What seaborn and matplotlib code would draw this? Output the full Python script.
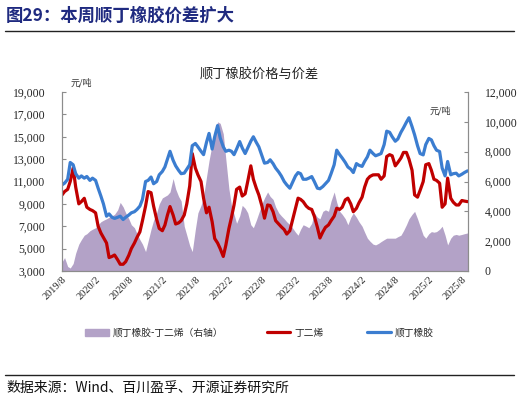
import numpy as np
import pandas as pd
import matplotlib
matplotlib.use("Agg")
import matplotlib.pyplot as plt
from matplotlib.ticker import FuncFormatter
from matplotlib.patches import Patch
from matplotlib.lines import Line2D
import seaborn as sns

# ─────────────────────────────────────────────
# data (semi-monthly)
# ─────────────────────────────────────────────
dates = pd.date_range("2019-08-01", "2025-09-01", freq="SMS")

br_price = [  # 顺丁橡胶
    10700, 10850, 11200, 12700, 12500, 11700, 11300, 11500, 11300, 11450, 11100, 11300,
    11100, 10400, 9700, 9000, 7900, 8100, 7800, 7700, 7800, 7900, 7600, 7800,
    8000, 8200, 8300, 8500, 8800, 9400, 11000, 11100, 11400, 10800, 11000, 11600,
    11900, 12300, 13000, 13700, 12900, 12400, 12000, 11700, 11750, 12100, 12500, 14200,
    14400, 14100, 13700, 13400, 14500, 15300, 13900, 15000, 16000, 14900, 14100, 13700,
    13800, 13700, 13400, 13900, 14570, 14000, 13500, 14000, 14600, 15000, 14500, 14100,
    13300, 12640, 12700, 12940, 12600, 12200, 11850, 11500, 11000, 10700, 10400, 10900,
    11500, 11800, 11700, 11200, 11200, 11300, 11440, 11000, 10400, 10350, 10550, 10800,
    11100, 11700, 12500, 13800, 13400, 13100, 12700, 12300, 12100, 11800, 12600, 12450,
    12350, 12800, 13200, 13800, 13500, 13300, 13400, 13500, 14300, 15500, 15400, 15000,
    14600, 14800, 15400, 15800, 16300, 16700, 15900, 15170, 14200, 13500, 13380, 14300,
    14850, 14720, 14200, 13800, 13680, 12200, 11500, 12790, 11600, 11700, 11740, 11500,
    11650, 11800, 11950,
]

bd_price = [  # 丁二烯
    9800, 10100, 10300, 11000, 12200, 10500, 9000, 9200, 9500, 8700, 8500, 8400,
    8200, 7000, 6400, 6000, 5500, 4200, 4300, 4430, 4000, 3600, 3600, 3830,
    4400, 5000, 5500, 6000, 6500, 7500, 8800, 10100, 10000, 8800, 7600, 6800,
    6600, 7100, 8000, 8760, 8000, 7200, 7300, 7500, 8000, 9000, 10600, 13500,
    12200, 11600, 11000, 9500, 8200, 8700, 7400, 5900, 5500, 5000, 4300, 5300,
    6800, 7800, 8900, 10300, 10500, 9700, 9900, 11000, 12400, 11200, 10400, 9800,
    8800, 7720, 8900, 8850, 8300, 7500, 7200, 6950, 6700, 6300, 6600, 7500,
    8600, 9510, 9400, 9200, 8800, 8600, 8500, 7900, 6900, 5950, 6500, 6900,
    7120, 7500, 7900, 8610, 8500, 8700, 9360, 9510, 9000, 8300, 8600, 9100,
    9600, 10500, 11200, 11450, 11590, 11600, 11600, 11200, 11500, 13230, 13400, 13300,
    12400, 12700, 13100, 13600, 13600, 13000, 12000, 9800, 9600, 10200, 10990, 12500,
    12600, 12000, 11200, 11100, 10850, 8700, 9000, 11300, 9500, 9150, 8900, 8900,
    9300, 9250, 9200,
]

spread = [  # 顺丁橡胶-丁二烯（右轴）
    600, 900, 300, 200, 500, 1200, 1800, 2100, 2400, 2500, 2700, 2800,
    2900, 3100, 3300, 3400, 3500, 3600, 3700, 3800, 4100, 4600, 4300, 3900,
    3500, 3100, 2900, 2500, 2100, 1800, 1300, 2000, 2800, 3400, 3900, 4500,
    4900, 5000, 5100, 5300, 6200, 5500, 5000, 4700, 3000, 2400, 1700, 1300,
    2800, 3900, 4400, 5000, 6300, 7400, 8500, 9400, 10000, 9900, 9200, 7500,
    5500, 4400, 3800, 3200, 3700, 4400, 4200, 3900, 3100, 2900, 3400, 3900,
    4500, 4900, 5300, 5000, 4800, 4300, 3900, 3700, 3500, 3300, 3100, 2900,
    2600, 2400, 2800, 3100, 3000, 2900, 3200, 3900, 3600, 3500, 4000, 4100,
    4000, 4700, 5300, 4600, 4000, 3800, 3500, 3100, 3600, 3900, 3600, 3300,
    3000, 2600, 2200, 2000, 1800, 1750, 1850, 1970, 2100, 2200, 2200, 2200,
    2200, 2300, 2400, 2700, 3100, 3500, 3800, 4000, 3500, 3000, 2400, 2200,
    2500, 2640, 2600, 2640, 2800, 3000, 2400, 1750, 2200, 2400, 2450, 2400,
    2450, 2500, 2550,
]

tick_labels = ["2019/8", "2020/2", "2020/8", "2021/2", "2021/8", "2022/2", "2022/8",
               "2023/2", "2023/8", "2024/2", "2024/8", "2025/2", "2025/8"]

df = pd.DataFrame({"date": dates, "br": br_price, "bd": bd_price, "spread": spread})

# ─────────────────────────────────────────────
# style
# ─────────────────────────────────────────────
sns.set_style("white")
plt.rcParams["font.family"] = ["Noto Sans CJK SC", "DejaVu Sans"]
serif = ["Liberation Serif", "DejaVu Serif"]

c_area = "#b3a2c7"
c_red = "#c00000"
c_blue = "#3b7dd0"
c_navy = "#1f2a80"
c_axis = "#8c8c8c"

fig = plt.figure(figsize=(5.19, 4.05), dpi=100)
ax = fig.add_axes([0.1195, 0.3309, 0.782, 0.4419])
ax2 = ax.twinx()

# spread area on right axis, behind the lines
ax2.fill_between(df["date"], 0, df["spread"], color=c_area, lw=0)
ax2.set_ylim(0, 12000)
ax2.set_yticks(np.arange(0, 12001, 2000))

sns.lineplot(data=df, x="date", y="bd", ax=ax, color=c_red, lw=2.3)
sns.lineplot(data=df, x="date", y="br", ax=ax, color=c_blue, lw=2.3)
ax.set_zorder(ax2.get_zorder() + 1)
ax.patch.set_visible(False)

ax.set_ylim(3000, 19000)
ax.set_yticks(np.arange(3000, 19001, 2000))
ax.set_xlim(pd.Timestamp("2019-08-01"), pd.Timestamp("2025-09-03"))
ticks = pd.to_datetime([t.replace("/", "-") + "-01" for t in tick_labels])
ax.set_xticks(ticks)
ax.set_xticklabels(tick_labels, rotation=45, ha="right", rotation_mode="anchor",
                   family=serif, fontsize=7.5)
ax.set_xlabel("")
ax.set_ylabel("")
ax2.set_ylabel("")

fmt = FuncFormatter(lambda v, p: f"{int(v):,}")
ax.yaxis.set_major_formatter(fmt)
ax2.yaxis.set_major_formatter(fmt)
for a in (ax, ax2):
    for lab in a.get_yticklabels():
        lab.set_family(serif)
        lab.set_fontsize(8.5)
    a.spines["top"].set_visible(False)
    for s in ("left", "right", "bottom"):
        a.spines[s].set_color(c_axis)
        a.spines[s].set_linewidth(0.8)
ax.tick_params(axis="y", direction="in", length=3, width=0.8, color=c_axis, pad=12)
ax2.tick_params(axis="y", direction="in", length=3, width=0.8, color=c_axis, pad=12)
ax.tick_params(axis="x", direction="in", length=3, width=0.8, color=c_axis, pad=3)

# units
fig.text(0.135, 0.79, "元/吨", fontsize=6.5, color="#333333")
ax.text(0.905, 0.88, "元/吨", transform=ax.transAxes, fontsize=6.5, color="#333333")

# titles
fig.text(0.012, 0.962, "图29：本周顺丁橡胶价差扩大", fontsize=12.5, fontweight="bold",
         color=c_navy, va="center")
fig.add_artist(Line2D([0.01, 0.99], [0.923, 0.923], color="#222222", lw=1.0))
fig.text(0.5, 0.815, "顺丁橡胶价格与价差", fontsize=9.5, ha="center", va="center",
         color="#222222")

# legend
handles = [Patch(color=c_area, label="顺丁橡胶-丁二烯（右轴）"),
           Line2D([], [], color=c_red, lw=2.3, label="丁二烯"),
           Line2D([], [], color=c_blue, lw=2.3, label="顺丁橡胶")]
fig.legend(handles=handles, loc="center", bbox_to_anchor=(0.5, 0.178), ncol=3,
           frameon=False, fontsize=7, handlelength=2.4, handleheight=0.8,
           columnspacing=4.5, handletextpad=0.4)

# source
fig.add_artist(Line2D([0.01, 0.99], [0.073, 0.073], color="#222222", lw=1.0))
fig.text(0.012, 0.042, "数据来源：Wind、百川盈孚、开源证券研究所", fontsize=10,
         va="center", color="#111111")

fig.savefig("out.png", dpi=100)
